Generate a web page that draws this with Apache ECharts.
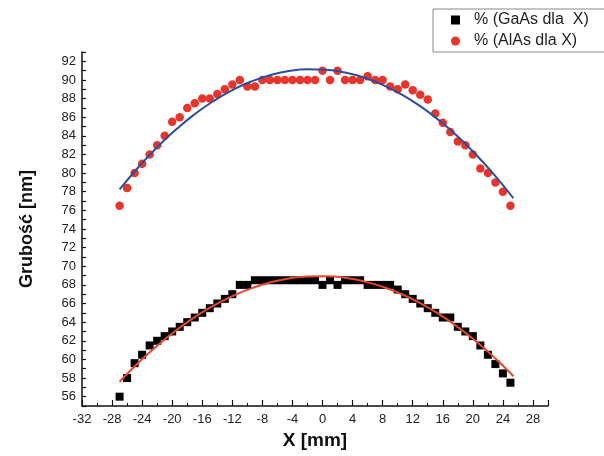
<!DOCTYPE html>
<html><head><meta charset="utf-8">
<script src="https://cdn.jsdelivr.net/npm/echarts@6/dist/echarts.min.js"></script>
<style>html,body{margin:0;padding:0;background:#fff}#c{width:604px;height:456px}</style>
</head><body><div id="c"></div>
<script>
const xPositions = [-27,-26,-25,-24,-23,-22,-21,-20,-19,-18,-17,-16,-15,-14,-13,-12,-11,-10,-9,-8,-7,-6,-5,-4,-3,-2,-1,0,1,2,3,4,5,6,7,8,9,10,11,12,13,14,15,16,17,18,19,20,21,22,23,24,25];
const alasValues = [76.5,78.4,80.0,81.0,82.0,83.0,84.0,85.5,86.0,87.0,87.5,88.0,88.0,88.5,89.0,89.5,90.0,89.3,89.3,90,90,90,90,90,90,90,90,91,90,91,90,90,90,90.4,90,90,89.3,89,89.5,88.9,88.4,87.9,86.4,85.4,84.4,83.4,83.0,82.0,80.5,80.0,79.0,78.0,76.5];
const gaasValues = [56,58,59.6,60.5,61.5,62,62.5,63,63.5,64,64.5,65,65.5,66,66.5,67,68,68,68.5,68.5,68.5,68.5,68.5,68.5,68.5,68.5,68.5,68,68.5,68,68.5,68.5,68.5,68,68,68,68,67.5,67,66.5,66,65.5,65,64.5,64.5,63.5,63,62.5,61.5,60.5,59.5,58.5,57.5];
const fitX = [-27,-24.5,-22,-19.5,-17,-14.5,-12,-9.5,-7,-4.5,-2,0.5,3,5.5,8,10.5,13,15.5,18,20.5,23,25.4];
const alasFit = [78.25,80.63,82.78,84.67,86.33,87.74,88.91,89.83,90.51,90.95,91.14,91.09,90.80,90.26,89.48,88.45,87.19,85.67,83.92,81.92,79.68,77.3];
const gaasFit = [57.6,59.64,61.47,63.11,64.54,65.77,66.80,67.63,68.26,68.69,68.91,68.94,68.76,68.38,67.80,67.02,66.04,64.86,63.47,61.89,60.10,58.2];
const xTicks = {min:-32, max:30, step:4};
const yTicks = {min:55, max:93, step:1};
const seriesNames = ['% (GaAs dla  X)', '% (AlAs dla X)'];

const zip = (xs, ys) => xs.map((x, i) => [x, ys[i]]);
const font = 'Liberation Sans, Arial, sans-serif';
const chart = echarts.init(document.getElementById('c'));
chart.setOption({
  animation: false,
  backgroundColor: '#fff',
  grid: {left: 82, right: 56, top: 52, bottom: 50},
  legend: {
    data: [
      {name: seriesNames[0], icon: 'rect'},
      {name: seriesNames[1], icon: 'circle'}
    ],
    orient: 'vertical', left: 433, top: 9,
    borderColor: '#888', borderWidth: 1,
    padding: [3, 40, 3, 18],
    itemWidth: 9, itemHeight: 9, itemGap: 5,
    textStyle: {fontFamily: font, fontSize: 16, color: '#222', padding: [0, 0, 0, 9]}
  },
  xAxis: {
    type: 'value', min: xTicks.min, max: xTicks.max, interval: xTicks.step,
    name: 'X [mm]', nameLocation: 'middle', nameGap: 23,
    nameTextStyle: {fontFamily: font, fontSize: 19, fontWeight: 'bold', color: '#111'},
    axisLine: {onZero: false, lineStyle: {color: '#111', width: 1.5}},
    axisTick: {inside: true, length: 6, lineStyle: {color: '#111', width: 1.2}},
    minorTick: {show: true, splitNumber: 2, length: 3, lineStyle: {color: '#111', width: 1}},
    splitLine: {show: false},
    axisLabel: {fontFamily: font, fontSize: 13, color: '#222', margin: 7,
      formatter: v => (v % 4 === 0 && v <= 28) ? String(v) : ''}
  },
  yAxis: {
    type: 'value', min: yTicks.min, max: yTicks.max, interval: yTicks.step,
    name: 'Grubość [nm]', nameLocation: 'middle', nameGap: 46,
    nameTextStyle: {fontFamily: font, fontSize: 18, fontWeight: 'bold', color: '#111'},
    axisLine: {show: true, onZero: false, lineStyle: {color: '#111', width: 1.5}},
    axisTick: {show: true, inside: true, length: 4, lineStyle: {color: '#111', width: 1.2}},
    splitLine: {show: false},
    axisLabel: {fontFamily: font, fontSize: 13, color: '#222', margin: 6,
      formatter: v => (v % 2 === 0) ? String(v) : ''}
  },
  series: [
    {name: seriesNames[0], type: 'scatter', symbol: 'rect', symbolSize: 8,
     itemStyle: {color: '#000', opacity: 1}, data: zip(xPositions, gaasValues), z: 3},
    {name: seriesNames[1], type: 'scatter', symbol: 'circle', symbolSize: 8.5,
     itemStyle: {color: '#e8352c', opacity: 1}, data: zip(xPositions, alasValues), z: 3},
    {name: 'fitAlAs', type: 'line', smooth: true, showSymbol: false,
     lineStyle: {color: '#2d4d9e', width: 2}, data: zip(fitX, alasFit), z: 4},
    {name: 'fitGaAs', type: 'line', smooth: true, showSymbol: false,
     lineStyle: {color: '#e8472f', width: 2}, data: zip(fitX, gaasFit), z: 4}
  ]
});
</script></body></html>
